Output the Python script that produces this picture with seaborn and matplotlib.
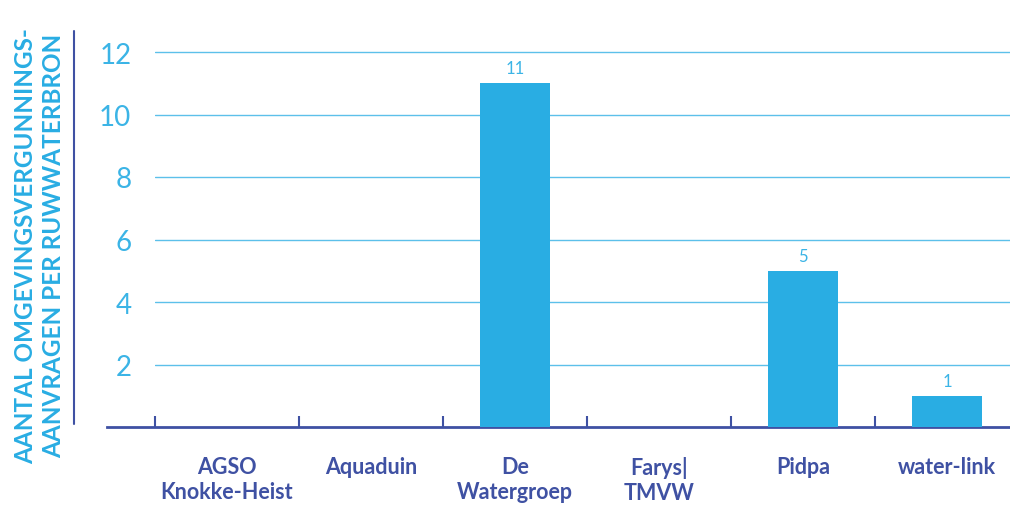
import matplotlib
matplotlib.use("Agg")
import matplotlib.pyplot as plt
from matplotlib.lines import Line2D
import seaborn as sns
import pandas as pd
import numpy as np

categories = ["AGSO\nKnokke-Heist", "Aquaduin", "De\nWatergroep", "Farys|\nTMVW", "Pidpa", "water-link"]
values = [0, 0, 11, 0, 5, 1]
yticks = [2, 4, 6, 8, 10, 12]
ylabel = "AANTAL OMGEVINGSVERGUNNINGS-\nAANVRAGEN PER RUWWATERBRON"

BAR = "#29ade3"
DARK = "#3f51a3"
LIGHT = "#3bb4e6"

sns.set_theme(style="white")
plt.rcParams['font.family'] = ['Lato', 'DejaVu Sans']

df = pd.DataFrame({"cat": categories, "val": values})
W, H = 1010, 506
fig = plt.figure(figsize=(W / 100, H / 100), dpi=100)
ax = fig.add_axes([155 / W, (H - 428) / H, (1019 - 155) / W, (428 - 20) / H])

sns.barplot(data=df, x="cat", y="val", color=BAR, width=0.48, saturation=1, ax=ax,
            zorder=3, linewidth=0)

ax.set_xlim(-0.5, 5.5)
ax.set_ylim(0, 12 * 408 / 375)
for t in yticks:
    ax.axhline(t, color="#5cc0ea", lw=1.0, zorder=1)

for i, v in enumerate(values):
    if v > 0:
        ax.annotate(str(v), (i, v), xytext=(0, 5), textcoords="offset points",
                    ha="center", va="bottom", color=LIGHT, fontsize=12)

for s in ["top", "right", "left"]:
    ax.spines[s].set_visible(False)
ax.spines["bottom"].set_color(DARK)
ax.spines["bottom"].set_linewidth(2)
ax.spines["bottom"].set_bounds(-0.5 - 48 / 144, 5.5)

ax.set_yticks(yticks)
ax.set_yticklabels([str(t) for t in yticks], color=LIGHT, fontsize=20)
ax.tick_params(axis="y", length=0, pad=17)

ax.set_xticks(range(len(categories)))
ax.set_xticklabels(categories, color=DARK, fontsize=15.5, fontweight="bold", linespacing=1.25, va="top")
ax.tick_params(axis="x", which="major", length=0, pad=21)
ax.set_xticks(np.arange(-0.5, 5.6, 1.0), minor=True)
ax.tick_params(axis="x", which="minor", direction="in", length=8, width=1.5, color=DARK, bottom=True)

ax.set_xlabel("")
ax.set_ylabel("")

# decorative vertical rule next to the axis title
fig.add_artist(Line2D([74 / W, 74 / W], [1 - 32 / H, 1 - 425 / H], color=DARK, lw=1.5,
                      transform=fig.transFigure))

fig.text(40 / W, 1 - 246 / H, ylabel, rotation=90, ha="center", va="center",
         color=BAR, fontsize=17.5, fontweight="bold", linespacing=1.25, multialignment="center")

fig.savefig("out.png", dpi=100)
